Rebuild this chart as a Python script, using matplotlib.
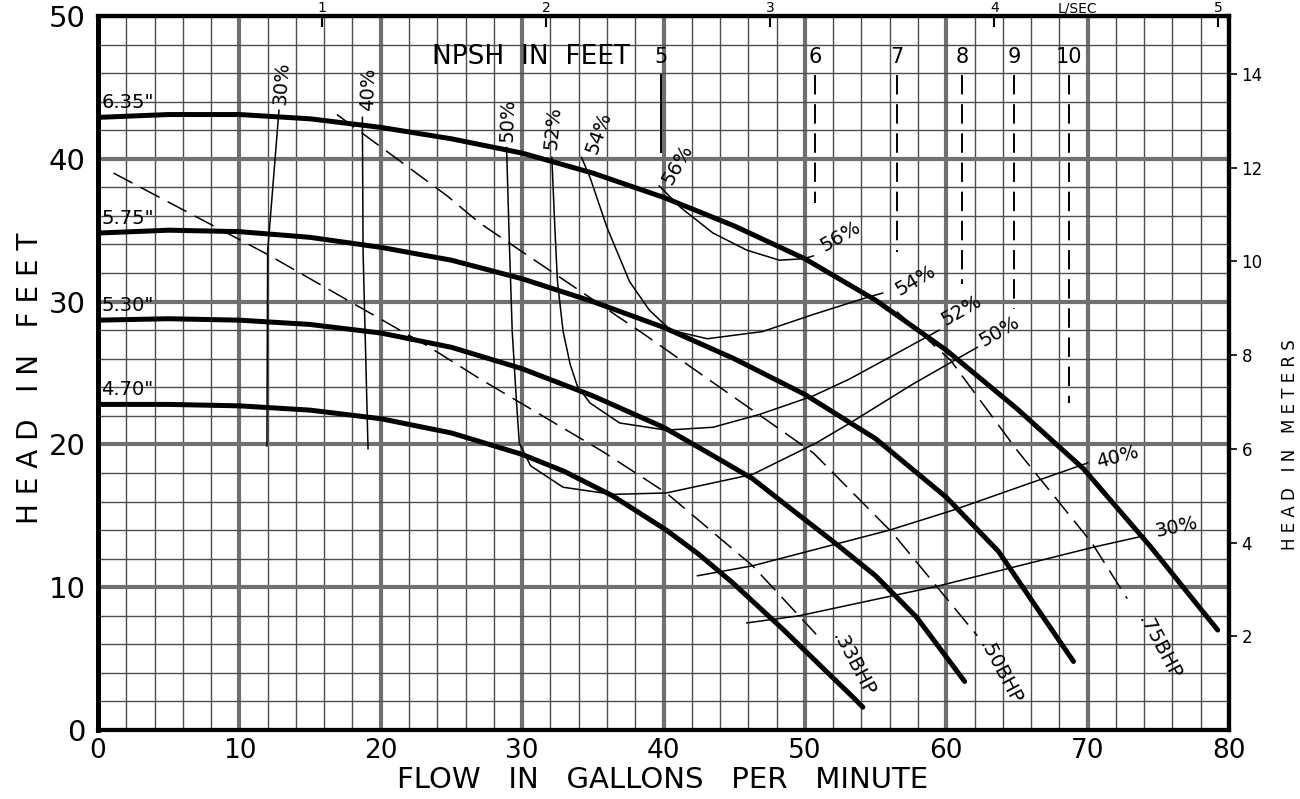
import matplotlib.pyplot as plt
from matplotlib.ticker import MultipleLocator

# impeller head-capacity curves (flow gpm, head ft)
q_635 = [0, 5, 10, 15, 20, 25, 30, 35, 40, 45, 50, 55, 60, 65, 69.7, 74.4, 79.2]
h_635 = [42.9, 43.1, 43.1, 42.8, 42.2, 41.4, 40.4, 39.0, 37.3, 35.3, 33.0, 30.1, 26.6, 22.5, 18.3, 12.9, 7.0]
q_575 = [0, 5, 10, 15, 20, 25, 30, 35, 40, 45, 50, 55, 60, 63.7, 66.1, 69]
h_575 = [34.8, 35.0, 34.9, 34.5, 33.8, 32.9, 31.6, 30.0, 28.2, 26.0, 23.5, 20.4, 16.3, 12.5, 9.0, 4.8]
q_530 = [0, 5, 10, 15, 20, 25, 30, 35, 40, 43, 46.3, 49, 52, 55, 57.9, 61.3]
h_530 = [28.7, 28.8, 28.7, 28.4, 27.8, 26.8, 25.3, 23.4, 21.2, 19.5, 17.6, 15.5, 13.2, 10.8, 7.9, 3.4]
q_470 = [0, 5, 10, 15, 20, 25, 30, 33, 36.4, 40.2, 42.5, 44.9, 48.4, 51, 53.4, 54.1]
h_470 = [22.8, 22.8, 22.7, 22.4, 21.8, 20.8, 19.3, 18.1, 16.4, 14.0, 12.3, 10.3, 7.1, 4.6, 2.3, 1.6]
imp_labels = ['6.35"', '5.75"', '5.30"', '4.70"']

# efficiency contours
e30a_q = [12.8, 12.0, 11.95]
e30a_h = [43.4, 33.5, 19.9]
e40a_q = [18.7, 18.75, 19.1]
e40a_h = [42.9, 33.5, 19.7]
e50_q = [28.9, 29.1, 29.3, 29.6, 29.8, 30.6, 32.9, 36.4, 40.2, 46.3, 50.8, 53.2, 57.6, 62.2]
e50_h = [40.8, 34.0, 27.9, 23.0, 20.1, 18.5, 17.0, 16.5, 16.6, 17.9, 20.1, 21.5, 24.2, 26.8]
e52_q = [32.1, 32.3, 32.5, 32.9, 33.4, 33.9, 34.8, 36.9, 40.2, 43.5, 46.8, 50.6, 53.2, 59.5]
e52_h = [40.1, 35.5, 31.4, 27.9, 25.6, 24.1, 22.9, 21.5, 21.0, 21.2, 22.1, 23.4, 24.6, 28.0]
e54_q = [34.2, 34.8, 36.0, 37.6, 39.0, 40.5, 43.1, 47.0, 50.6, 54.1, 55.5]
e54_h = [40.1, 38.7, 35.2, 31.4, 29.4, 28.0, 27.4, 27.9, 29.1, 30.2, 30.6]
e56_q = [39.7, 41.2, 43.5, 45.9, 48.2, 49.9, 50.6]
e56_h = [38.1, 36.6, 34.8, 33.6, 32.9, 33.0, 33.2]
e40b_q = [42.4, 46.3, 56.0, 60.5, 70.0]
e40b_h = [10.8, 11.5, 14.0, 15.4, 18.7]
e30b_q = [45.9, 49.6, 59.5, 70.4, 74.0]
e30b_h = [7.5, 8.0, 10.1, 12.8, 13.6]

# brake horsepower lines
bhp33_q = [1.1, 12.0, 23.3, 27.0, 35.7, 40.2, 46.3, 50.8]
bhp33_h = [39.0, 33.3, 26.9, 24.6, 19.5, 16.6, 11.5, 6.7]
bhp50_q = [16.9, 24.7, 27.0, 38.5, 47.3, 50.6, 56.2, 62.2]
bhp50_h = [43.1, 37.4, 35.5, 27.8, 21.7, 19.4, 13.8, 6.6]
bhp75_q = [56.5, 60.3, 65.0, 70.3, 72.8]
bhp75_h = [29.3, 25.9, 19.6, 13.1, 9.2]

# NPSH required markers
npsh_vals = ['5', '6', '7', '8', '9', '10']
npsh_q = [39.8, 50.7, 56.5, 61.1, 64.8, 68.7]
npsh_top = [45.9, 45.9, 45.9, 45.9, 45.9, 45.9]
npsh_bot = [40.5, 36.9, 33.5, 31.2, 29.5, 22.9]

fig = plt.figure(figsize=(13, 7.99), dpi=100)
ax = fig.add_axes([98/1300, 69/799, 1131/1300, 714/799])
ax.set_xlim(0, 80)
ax.set_ylim(0, 50)
ax.xaxis.set_major_locator(MultipleLocator(10))
ax.xaxis.set_minor_locator(MultipleLocator(2))
ax.yaxis.set_major_locator(MultipleLocator(10))
ax.yaxis.set_minor_locator(MultipleLocator(2))
ax.set_axisbelow(True)
ax.grid(which='minor', color='#4d4d4d', lw=1.0)
ax.grid(which='major', color='#707070', lw=3.0)
ax.tick_params(which='both', length=0)
ax.tick_params(axis='x', labelsize=19, pad=6)
ax.tick_params(axis='y', labelsize=21, pad=9)
for s in ax.spines.values():
    s.set_linewidth(3.0)
ax.spines['left'].set_linewidth(3.6)

thin = dict(color='black', lw=1.1)
dash = dict(color='black', lw=1.1, dashes=(14, 6))

for q, h in [(e30a_q, e30a_h), (e40a_q, e40a_h), (e50_q, e50_h), (e52_q, e52_h),
             (e54_q, e54_h), (e56_q, e56_h), (e40b_q, e40b_h), (e30b_q, e30b_h)]:
    ax.plot(q, h, **thin)
for q, h in [(bhp33_q, bhp33_h), (bhp50_q, bhp50_h), (bhp75_q, bhp75_h)]:
    ax.plot(q, h, **dash)

for i in range(len(npsh_vals)):
    if i == 0:
        ax.plot([npsh_q[i], npsh_q[i]], [npsh_top[i], npsh_bot[i]], color='black', lw=1.4)
    else:
        ax.plot([npsh_q[i], npsh_q[i]], [npsh_top[i], npsh_bot[i]], color='black', lw=1.4,
                dashes=(10, 5))
    ax.text(npsh_q[i], 47.1, npsh_vals[i], fontsize=15, ha='center', va='center')
ax.text(23.6, 47.1, 'NPSH  IN  FEET', fontsize=19, ha='left', va='center')

curves = [(q_635, h_635), (q_575, h_575), (q_530, h_530), (q_470, h_470)]
for (q, h), lab in zip(curves, imp_labels):
    ax.plot(q, h, color='black', lw=3.6, solid_capstyle='round', solid_joinstyle='round')
    ax.text(0.25, h[0] + 0.35, lab, fontsize=14, ha='left', va='bottom')

# efficiency labels
tk = dict(fontsize=14, ha='center', va='center')
ax.text(13.0, 45.3, '30%', rotation=86, **tk)
ax.text(19.1, 44.9, '40%', rotation=88, **tk)
ax.text(29.0, 42.7, '50%', rotation=88, **tk)
ax.text(32.2, 42.2, '52%', rotation=85, **tk)
ax.text(35.4, 41.8, '54%', rotation=70, **tk)
ax.text(41.0, 39.6, '56%', rotation=60, **tk)
ax.text(52.5, 34.6, '56%', rotation=30, **tk)
ax.text(57.8, 31.5, '54%', rotation=30, **tk)
ax.text(61.1, 29.4, '52%', rotation=30, **tk)
ax.text(63.8, 27.9, '50%', rotation=30, **tk)
ax.text(72.1, 19.1, '40%', rotation=15, **tk)
ax.text(76.3, 14.2, '30%', rotation=12, **tk)

ax.text(53.4, 4.6, '.33BHP', rotation=-62, **tk)
ax.text(63.8, 4.0, '.50BHP', rotation=-62, **tk)
ax.text(75.1, 5.8, '.75BHP', rotation=-62, **tk)

fig.text(663/1300, 1 - 780/799, 'FLOW   IN   GALLONS   PER   MINUTE', fontsize=21,
         ha='center', va='center')
fig.text(30/1300, 1 - 378/799, 'H E A D   I N   F E E T', rotation=90, fontsize=20,
         ha='center', va='center')

# metres on the right
sy = ax.secondary_yaxis('right', functions=(lambda f: f * 0.3048, lambda m: m / 0.3048))
sy.set_yticks([2, 4, 6, 8, 10, 12, 14])
sy.tick_params(length=6, width=1.2, labelsize=12, pad=3)
sy.spines['right'].set_linewidth(3.0)
fig.text(1290/1300, 1 - 445/799, 'H E A D   I N   M E T E R S', rotation=90, fontsize=12,
         ha='center', va='center')

# litres per second on top
sx = ax.secondary_xaxis('top', functions=(lambda q: q / 15.85, lambda l: l * 15.85))
sx.set_xticks([1, 2, 3, 4, 5])
sx.tick_params(direction='in', length=8, width=1.5, labelsize=10, pad=1)
sx.spines['top'].set_linewidth(3.0)
fig.text(1077/1300, 1 - 15/799, 'L/SEC', fontsize=10, ha='center', va='bottom')

fig.savefig('out.png', dpi=100)
